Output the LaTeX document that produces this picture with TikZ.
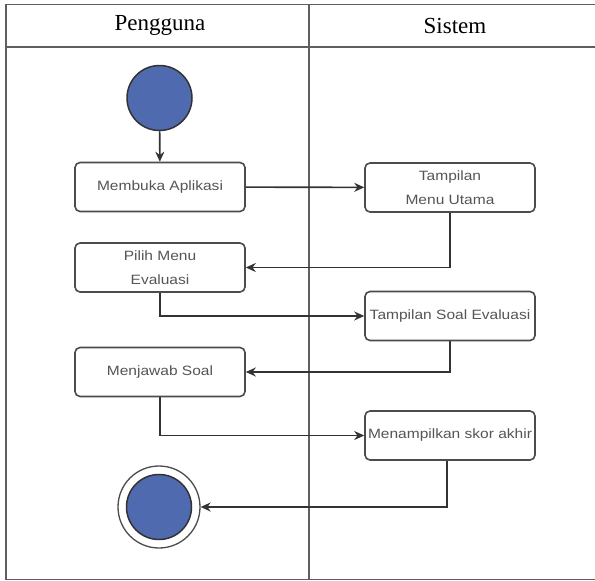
\documentclass[tikz,border=0pt]{standalone}
\usepackage{fontspec}
\setmainfont{Liberation Serif}
\newfontfamily\boxfont[FakeStretch=1.15]{Liberation Sans}
\usetikzlibrary{arrows.meta, positioning}
\definecolor{stateblue}{RGB}{80,106,176}
\definecolor{laneline}{RGB}{95,95,95}
\definecolor{boxtext}{RGB}{85,85,85}

\tikzset{
  lane/.style={line width=1.8pt, draw=laneline},
  actbox/.style={draw=black!70, line width=1.6pt, rounded corners=5pt,
    minimum width=170pt, minimum height=49pt, align=center, inner sep=2pt,
    font=\boxfont\fontsize{13.5}{24}\selectfont, text=boxtext},
  statenode/.style={circle, fill=stateblue, draw=black!80, line width=1.5pt, minimum size=65pt, inner sep=0pt},
  flow/.style={line width=1.6pt, draw=black!80, -{Stealth[length=10pt, width=9pt]}},
  lanetitle/.style={font=\fontsize{23}{26}\selectfont}
}

\begin{document}
\begin{tikzpicture}[x=1pt, y=-1pt]
  \useasboundingbox (0, 0) rectangle (595, 581);
  \fill [white] (0, 0) rectangle (595, 581);

  % swimlanes
  \draw [lane] (595, 4.5) -- (6, 4.5) -- (6, 579.5) -- (595, 579.5);
  \draw [lane] (6, 47) -- (595, 47);
  \draw [lane] (309, 4.5) -- (309, 579.5);
  \node [lanetitle] (pengguna) at (160, 25.5) {Pengguna};
  \node [lanetitle] (sistem) at (455, 25.5) {Sistem};

  % activities
  \node [statenode] (start) at (159.5, 98) {};
  \node [actbox] (membuka) at (160, 187) {Membuka Aplikasi};
  \node [actbox] (menuUtama) at (450, 187.5) {Tampilan\\Menu Utama};
  \node [actbox] (pilihMenu) at (160, 267.5) {Pilih Menu\\Evaluasi};
  \node [actbox] (soalEvaluasi) at (450, 316) {Tampilan Soal Evaluasi};
  \node [actbox] (menjawab) at (160, 372) {Menjawab Soal};
  \node [actbox] (skor) at (450, 435.5) {Menampilkan skor akhir};
  \node [circle, draw=black!70, line width=1.3pt, minimum size=82pt, inner sep=0pt] (finish) at (159, 507) {};
  \node [statenode] (finishDot) at (finish.center) {};

  % control flow
  \draw [flow] (start) -- (membuka);
  \draw [flow] (membuka) -- (menuUtama);
  \draw [flow] (menuUtama.south) |- (pilihMenu.east);
  \draw [flow] (pilihMenu.south) |- (soalEvaluasi.west);
  \draw [flow] (soalEvaluasi.south) |- (menjawab.east);
  \draw [flow] (menjawab.south) |- (skor.west);
  \draw [flow] ([xshift=-3pt]skor.south) |- (finish.east);
\end{tikzpicture}
\end{document}
